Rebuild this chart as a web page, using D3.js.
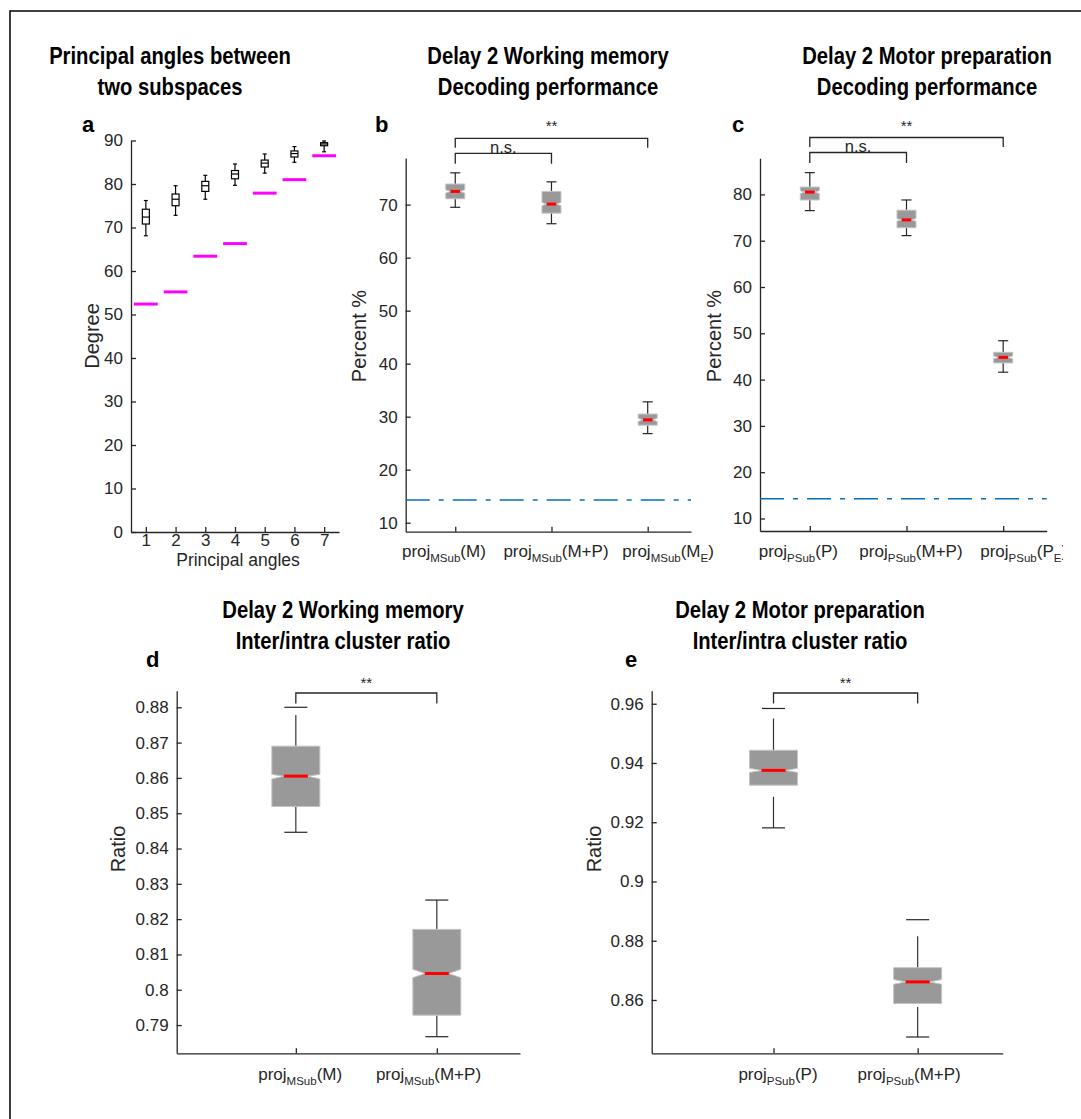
<!DOCTYPE html>
<html>
<head>
<meta charset="utf-8">
<script src="https://cdn.jsdelivr.net/npm/d3@7"></script>
<style>
  body { margin: 0; background: #fff; }
  svg text { font-family: "Liberation Sans", Arial, Helvetica, sans-serif; fill: #262626; }
</style>
</head>
<body>
<svg id="fig" width="1081" height="1119"></svg>
<script>
// ---- panel a : principal angles (boxes) and reference angles (magenta)
const angleIdx = [1, 2, 3, 4, 5, 6, 7];
const angleLo  = [68.1, 72.8, 76.5, 79.7, 82.5, 85.0, 87.4];
const angleQ1  = [70.8, 75.0, 78.3, 81.2, 83.9, 86.2, 88.8];
const angleMed = [72.4, 76.5, 79.6, 82.3, 84.8, 87.0, 89.2];
const angleQ3  = [74.2, 77.7, 80.6, 83.1, 85.5, 87.6, 89.5];
const angleHi  = [76.2, 79.6, 82.0, 84.6, 86.9, 88.6, 89.9];
const angleRef = [52.4, 55.2, 63.4, 66.3, 77.9, 81.0, 86.5];
const angleTicks = [0, 10, 20, 30, 40, 50, 60, 70, 80, 90];

// ---- panel b : working memory decoding
const wmCats  = ["proj_{MSub}(M)", "proj_{MSub}(M+P)", "proj_{MSub}(M_{E})"];
const wmLo    = [69.5, 66.4, 26.8];
const wmQ1    = [71.1, 68.4, 28.4];
const wmNLo   = [72.2, 69.8, 29.1];
const wmMed   = [72.5, 70.1, 29.4];
const wmNHi   = [72.8, 70.4, 29.7];
const wmQ3    = [73.9, 72.5, 30.5];
const wmHi    = [76.0, 74.3, 32.8];
const wmTicks = [10, 20, 30, 40, 50, 60, 70];

// ---- panel c : motor preparation decoding
const mpCats  = ["proj_{PSub}(P)", "proj_{PSub}(M+P)", "proj_{PSub}(P_{E})"];
const mpLo    = [76.5, 71.1, 41.6];
const mpQ1    = [78.8, 72.8, 43.6];
const mpNLo   = [80.2, 74.2, 44.5];
const mpMed   = [80.5, 74.5, 44.8];
const mpNHi   = [80.8, 74.8, 45.1];
const mpQ3    = [81.6, 76.6, 45.9];
const mpHi    = [84.7, 78.8, 48.4];
const mpTicks = [10, 20, 30, 40, 50, 60, 70, 80];

const chanceLevel = 100 / 7;

// ---- panel d : working memory cluster ratio
const wmRatioCats = ["proj_{MSub}(M)", "proj_{MSub}(M+P)"];
const wmRCapHi  = [0.8800, 0.8254];
const wmRLineHi = [0.8778, 0.8254];
const wmRQ3     = [0.8690, 0.8171];
const wmRNHi    = [0.8610, 0.8058];
const wmRMed    = [0.8605, 0.8046];
const wmRNLo    = [0.8597, 0.8034];
const wmRQ1     = [0.8519, 0.7928];
const wmRLineLo = [0.8519, 0.7928];
const wmRCapLo  = [0.8446, 0.7867];
const wmRTicks  = [0.79, 0.80, 0.81, 0.82, 0.83, 0.84, 0.85, 0.86, 0.87, 0.88];

// ---- panel e : motor preparation cluster ratio
const mpRatioCats = ["proj_{PSub}(P)", "proj_{PSub}(M+P)"];
const mpRCapHi  = [0.9584, 0.8871];
const mpRLineHi = [0.9550, 0.8815];
const mpRQ3     = [0.9443, 0.8709];
const mpRNHi    = [0.9382, 0.8669];
const mpRMed    = [0.9375, 0.8661];
const mpRNLo    = [0.9368, 0.8653];
const mpRQ1     = [0.9325, 0.8588];
const mpRLineLo = [0.9286, 0.8576];
const mpRCapLo  = [0.9181, 0.8475];
const mpRTicks  = [0.86, 0.88, 0.90, 0.92, 0.94, 0.96];

const INK = "#262626";
const svg = d3.select("#fig");

// outer frame (left and top only)
svg.append("path").attr("d", "M10,1119V11H1081")
  .attr("fill", "none").attr("stroke", "#000").attr("stroke-width", 1.5);

let drawAxes = (g, x, y, yTicks, yFmt, xTicks, xFmt, xPad) => {
  let xa = d3.axisBottom(x).tickValues(xTicks).tickFormat(xFmt)
    .tickSizeInner(-5).tickSizeOuter(0).tickPadding(xPad);
  let ya = d3.axisLeft(y).tickValues(yTicks).tickFormat(yFmt)
    .tickSizeInner(-5).tickSizeOuter(0).tickPadding(8);
  let gx = g.append("g").attr("transform", `translate(0,${y.range()[0]})`).call(xa);
  let gy = g.append("g").attr("transform", `translate(${x.range()[0]},0)`).call(ya);
  [gx, gy].forEach(a => {
    a.attr("font-size", 17).attr("font-family", null).attr("color", INK);
    a.selectAll("path, line").attr("stroke-width", 1.3);
  });
};

// bold, slightly condensed two-line titles
let title = (cx, lines, y0) => {
  lines.forEach((t, i) => {
    svg.append("text").attr("transform", `translate(${cx},${y0 + i * 31}) scale(0.88,1)`)
      .attr("text-anchor", "middle").attr("font-size", 23).attr("font-weight", "bold")
      .style("fill", "#000").text(t);
  });
};

let panelLetter = (x, y, t) => {
  svg.append("text").attr("x", x).attr("y", y).attr("font-size", 22)
    .attr("font-weight", "bold").style("fill", "#000").text(t);
};

let yLabel = (x, y, t) => {
  svg.append("text").attr("transform", `translate(${x},${y}) rotate(-90)`)
    .attr("text-anchor", "middle").attr("font-size", 20).text(t);
};

// label with TeX-like subscripts: proj_{MSub}(M_{E})
let catLabel = (g, cx, cy, str) => {
  let t = g.append("text").attr("x", cx).attr("y", cy).attr("text-anchor", "middle").attr("font-size", 17);
  str.split(/(_\{[^}]*\})/).filter(s => s.length).forEach(s => {
    if (s.startsWith("_{")) {
      t.append("tspan").attr("dy", 5).attr("font-size", 11.5).text(s.slice(2, -1));
    } else {
      let ts = t.append("tspan").text(s);
      if (t.selectAll("tspan").size() > 1) ts.attr("dy", -5);
    }
  });
};

let bracket = (g, x1, x2, yTop, yLeg, label, labelY, fs) => {
  g.append("path").attr("d", `M${x1},${yLeg}V${yTop}H${x2}V${yLeg}`)
    .attr("fill", "none").attr("stroke", INK).attr("stroke-width", 1.3);
  g.append("text").attr("x", (x1 + x2) / 2).attr("y", labelY).attr("text-anchor", "middle")
    .attr("font-size", fs).text(label);
};

// notched grey box (MATLAB boxplot style)
let notchBox = (g, cx, w, y, q1, nlo, med, nhi, q3) => {
  let h = w / 2, n = w / 4;
  let pts = [
    [cx - h, y(q3)], [cx + h, y(q3)], [cx + h, y(nhi)], [cx + h - n, y(med)], [cx + h, y(nlo)],
    [cx + h, y(q1)], [cx - h, y(q1)], [cx - h, y(nlo)], [cx - h + n, y(med)], [cx - h, y(nhi)]
  ];
  g.append("polygon").attr("points", pts.map(p => p.join(",")).join(" "))
    .attr("fill", "#999999").attr("stroke", "#c4c4c4").attr("stroke-width", 1);
  g.append("line").attr("x1", cx - n).attr("x2", cx + n).attr("y1", y(med)).attr("y2", y(med))
    .attr("stroke", "#ff0000").attr("stroke-width", 3);
};

let vline = (g, x, ya, yb, col) => g.append("line").attr("x1", x).attr("x2", x)
  .attr("y1", ya).attr("y2", yb).attr("stroke", col || INK).attr("stroke-width", 1.2);
let hline = (g, xa, xb, y, col, sw) => g.append("line").attr("x1", xa).attr("x2", xb)
  .attr("y1", y).attr("y2", y).attr("stroke", col || INK).attr("stroke-width", sw || 1.2);

// ============ panel a
{
  let g = svg.append("g");
  let x = d3.scaleLinear().domain([0.5, 7.5]).range([131, 339]);
  let y = d3.scaleLinear().domain([0, 90]).range([532, 140.5]);
  drawAxes(g, x, y, angleTicks, d3.format("d"), angleIdx, d3.format("d"), 2);
  angleIdx.forEach((k, i) => {
    let cx = x(k);
    hline(g, x(k - 0.4), x(k + 0.4), y(angleRef[i]), "#ff00ff", 3);
    vline(g, cx, y(angleHi[i]), y(angleQ3[i]), "#000");
    vline(g, cx, y(angleQ1[i]), y(angleLo[i]), "#000");
    hline(g, cx - 2, cx + 2, y(angleHi[i]), "#000");
    hline(g, cx - 2, cx + 2, y(angleLo[i]), "#000");
    g.append("rect").attr("x", cx - 3.5).attr("width", 7)
      .attr("y", y(angleQ3[i])).attr("height", y(angleQ1[i]) - y(angleQ3[i]))
      .attr("fill", "#fff").attr("stroke", "#000").attr("stroke-width", 1.2);
    hline(g, cx - 3.5, cx + 3.5, y(angleMed[i]), "#000");
  });
  g.append("text").attr("x", (x.range()[0] + x.range()[1]) / 2 + 3).attr("y", 566)
    .attr("text-anchor", "middle").attr("font-size", 17.5).text("Principal angles");
  yLabel(99, 336, "Degree");
  panelLetter(82, 132, "a");
  title(170, ["Principal angles between", "two subspaces"], 64);
}

// ============ panels b, c
let decodingPanel = (xr, yDom, yr, ticks, cats, lo, q1, nlo, med, nhi, q3, hi, brY, clipRight) => {
  let g = svg.append("g");
  let x = d3.scaleLinear().domain([0.485, 3.45]).range(xr);
  let y = d3.scaleLinear().domain(yDom).range(yr);
  drawAxes(g, x, y, ticks, d3.format("d"), [1, 2, 3], () => "", 4);
  // chance level
  g.append("line").attr("x1", xr[0]).attr("x2", xr[1]).attr("y1", y(chanceLevel)).attr("y2", y(chanceLevel))
    .attr("stroke", "#0072BD").attr("stroke-width", 1.5).attr("stroke-dasharray", "24,9,5,9");
  cats.forEach((c, i) => {
    let cx = x(i + 1);
    vline(g, cx, y(hi[i]), y(q3[i]));
    vline(g, cx, y(q1[i]), y(lo[i]));
    hline(g, cx - 5, cx + 5, y(hi[i]));
    hline(g, cx - 5, cx + 5, y(lo[i]));
    notchBox(g, cx, 19, y, q1[i], nlo[i], med[i], nhi[i], q3[i]);
  });
  // category labels, spread a bit wider than the ticks
  let lg = g.append("g");
  if (clipRight) {
    svg.append("clipPath").attr("id", "clipc").append("rect")
      .attr("x", 0).attr("y", 0).attr("width", clipRight).attr("height", 1119);
    lg.attr("clip-path", "url(#clipc)");
  }
  let mid = x(2);
  cats.forEach((c, i) => catLabel(lg, mid + (x(i + 1) - mid) * 1.165 + 4.5, 557, c));
  bracket(g, x(1), x(3), brY, brY + 9.5, "**", brY - 7, 15);
  bracket(g, x(1), x(2), brY + 15, brY + 25.5, "n.s.", brY + 14.5, 16.5);
};

decodingPanel([405.7, 691], [8.3, 78.8], [531.7, 158], wmTicks, wmCats,
  wmLo, wmQ1, wmNLo, wmMed, wmNHi, wmQ3, wmHi, 138.3, null);
yLabel(366, 336, "Percent %");
panelLetter(375, 132, "b");
title(548, ["Delay 2 Working memory", "Decoding performance"], 64);

decodingPanel([760, 1046.7], [7.3, 87.8], [531, 158.3], mpTicks, mpCats,
  mpLo, mpQ1, mpNLo, mpMed, mpNHi, mpQ3, mpHi, 137.5, 1063);
yLabel(721, 336, "Percent %");
panelLetter(732, 132, "c");
title(927, ["Delay 2 Motor preparation", "Decoding performance"], 64);

// ============ panels d, e
let ratioPanel = (xr, yDom, ticks, cats, capHi, lineHi, q3, nhi, med, nlo, q1, lineLo, capLo) => {
  let g = svg.append("g");
  let x = d3.scaleLinear().domain([0.155, 2.59]).range(xr);
  let y = d3.scaleLinear().domain(yDom).range([1053.3, 690.7]);
  drawAxes(g, x, y, ticks, v => String(+v.toFixed(2)), [1, 2], () => "", 4);
  cats.forEach((c, i) => {
    let cx = x(i + 1);
    vline(g, cx, y(lineHi[i]), y(q3[i]), "#333");
    vline(g, cx, y(lineLo[i]), y(capLo[i]), "#333");
    hline(g, cx - 11.5, cx + 11.5, y(capHi[i]));
    hline(g, cx - 11.5, cx + 11.5, y(capLo[i]));
    notchBox(g, cx, 48, y, q1[i], nlo[i], med[i], nhi[i], q3[i]);
  });
  let mid = (x(1) + x(2)) / 2;
  cats.forEach((c, i) => catLabel(g, mid + (x(i + 1) - mid) * 0.91 - 2, 1080, c));
  bracket(g, x(1), x(2), 693, 703.5, "**", 688, 15);
};

ratioPanel([176.7, 520], [0.782, 0.8847], wmRTicks, wmRatioCats,
  wmRCapHi, wmRLineHi, wmRQ3, wmRNHi, wmRMed, wmRNLo, wmRQ1, wmRLineLo, wmRCapLo);
yLabel(125, 849, "Ratio");
panelLetter(146, 667, "d");
title(343, ["Delay 2 Working memory", "Inter/intra cluster ratio"], 618);

ratioPanel([651.7, 1002.7], [0.842, 0.9644], mpRTicks, mpRatioCats,
  mpRCapHi, mpRLineHi, mpRQ3, mpRNHi, mpRMed, mpRNLo, mpRQ1, mpRLineLo, mpRCapLo);
yLabel(601, 849, "Ratio");
panelLetter(625, 667, "e");
title(800, ["Delay 2 Motor preparation", "Inter/intra cluster ratio"], 618);
</script>
</body>
</html>
